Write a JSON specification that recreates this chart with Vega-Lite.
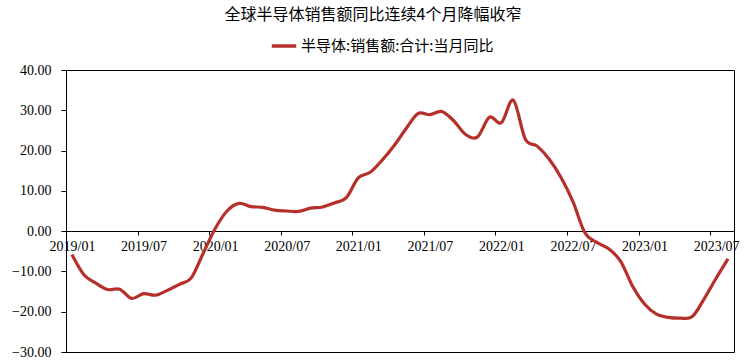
{
  "$schema": "https://vega.github.io/schema/vega-lite/v6.json",
  "width": 668,
  "height": 282,
  "autosize": {"type": "none"},
  "padding": {"left": 66, "top": 70, "right": 11, "bottom": 8},
  "background": "white",
  "title": {
    "text": "全球半导体销售额同比连续4个月降幅收窄",
    "font": "Noto Sans CJK SC",
    "fontSize": 16,
    "fontWeight": "normal",
    "color": "#000000",
    "anchor": "middle",
    "dx": -27,
    "offset": 9
  },
  "data": {
    "values": [
      {"月份": "2019/01", "同比": -5.8},
      {"月份": "2019/02", "同比": -10.8},
      {"月份": "2019/03", "同比": -12.9},
      {"月份": "2019/04", "同比": -14.5},
      {"月份": "2019/05", "同比": -14.4},
      {"月份": "2019/06", "同比": -16.7},
      {"月份": "2019/07", "同比": -15.5},
      {"月份": "2019/08", "同比": -15.9},
      {"月份": "2019/09", "同比": -14.7},
      {"月份": "2019/10", "同比": -13.2},
      {"月份": "2019/11", "同比": -11.6},
      {"月份": "2019/12", "同比": -5.5},
      {"月份": "2020/01", "同比": 0.6},
      {"月份": "2020/02", "同比": 5.0},
      {"月份": "2020/03", "同比": 6.9},
      {"月份": "2020/04", "同比": 6.1},
      {"月份": "2020/05", "同比": 5.9},
      {"月份": "2020/06", "同比": 5.2},
      {"月份": "2020/07", "同比": 5.0},
      {"月份": "2020/08", "同比": 4.9},
      {"月份": "2020/09", "同比": 5.7},
      {"月份": "2020/10", "同比": 6.0},
      {"月份": "2020/11", "同比": 7.0},
      {"月份": "2020/12", "同比": 8.3},
      {"月份": "2021/01", "同比": 13.2},
      {"月份": "2021/02", "同比": 14.6},
      {"月份": "2021/03", "同比": 17.6},
      {"月份": "2021/04", "同比": 21.2},
      {"月份": "2021/05", "同比": 25.4},
      {"月份": "2021/06", "同比": 29.2},
      {"月份": "2021/07", "同比": 28.9},
      {"月份": "2021/08", "同比": 29.7},
      {"月份": "2021/09", "同比": 27.4},
      {"月份": "2021/10", "同比": 24.0},
      {"月份": "2021/11", "同比": 23.4},
      {"月份": "2021/12", "同比": 28.3},
      {"月份": "2022/01", "同比": 26.9},
      {"月份": "2022/02", "同比": 32.5},
      {"月份": "2022/03", "同比": 22.9},
      {"月份": "2022/04", "同比": 21.1},
      {"月份": "2022/05", "同比": 17.9},
      {"月份": "2022/06", "同比": 13.3},
      {"月份": "2022/07", "同比": 7.3},
      {"月份": "2022/08", "同比": -0.4},
      {"月份": "2022/09", "同比": -2.8},
      {"月份": "2022/10", "同比": -4.4},
      {"月份": "2022/11", "同比": -7.5},
      {"月份": "2022/12", "同比": -13.7},
      {"月份": "2023/01", "同比": -18.1},
      {"月份": "2023/02", "同比": -20.6},
      {"月份": "2023/03", "同比": -21.4},
      {"月份": "2023/04", "同比": -21.6},
      {"月份": "2023/05", "同比": -21.2},
      {"月份": "2023/06", "同比": -16.8},
      {"月份": "2023/07", "同比": -11.7},
      {"月份": "2023/08", "同比": -6.9}
    ]
  },
  "mark": {"type": "line", "interpolate": "cardinal", "strokeWidth": 3.2, "clip": false},
  "encoding": {
    "x": {
      "field": "月份",
      "type": "ordinal",
      "sort": null,
      "scale": {"type": "point", "padding": 0.5},
      "axis": {
        "title": null,
        "values": ["2019/01", "2019/07", "2020/01", "2020/07", "2021/01", "2021/07", "2022/01", "2022/07", "2023/01", "2023/07"],
        "labelAngle": 0,
        "offset": -121,
        "tickOffset": -5.96,
        "labelOffset": 5.96,
        "tickSize": 4,
        "tickColor": "#000000",
        "domainColor": "#000000",
        "domainWidth": 1,
        "labelFont": "Liberation Serif",
        "labelFontSize": 14,
        "labelColor": "#000000",
        "labelPadding": 4,
        "labelOverlap": false,
        "labelBound": false,
        "labelFlush": false,
        "grid": false
      }
    },
    "y": {
      "field": "同比",
      "type": "quantitative",
      "scale": {"domain": [-30, 40], "nice": false, "zero": false},
      "axis": {
        "title": null,
        "values": [-30, -20, -10, 0, 10, 20, 30, 40],
        "format": ".2f",
        "tickSize": 5,
        "tickColor": "#000000",
        "domainColor": "#000000",
        "labelFont": "Liberation Serif",
        "labelFontSize": 14,
        "labelColor": "#000000",
        "labelPadding": 10,
        "grid": false
      }
    },
    "color": {
      "datum": "半导体:销售额:合计:当月同比",
      "type": "nominal",
      "scale": {"range": ["#B5302A"]},
      "legend": {
        "title": null,
        "orient": "none",
        "legendX": 204,
        "legendY": -38,
        "symbolType": "stroke",
        "symbolStrokeWidth": 3.5,
        "symbolSize": 600,
        "labelFont": "Noto Sans CJK SC",
        "labelFontSize": 15,
        "labelColor": "#000000",
        "labelOffset": 3,
        "labelLimit": 0
      }
    }
  },
  "config": {
    "view": {"stroke": "#000000", "strokeWidth": 1}
  }
}
